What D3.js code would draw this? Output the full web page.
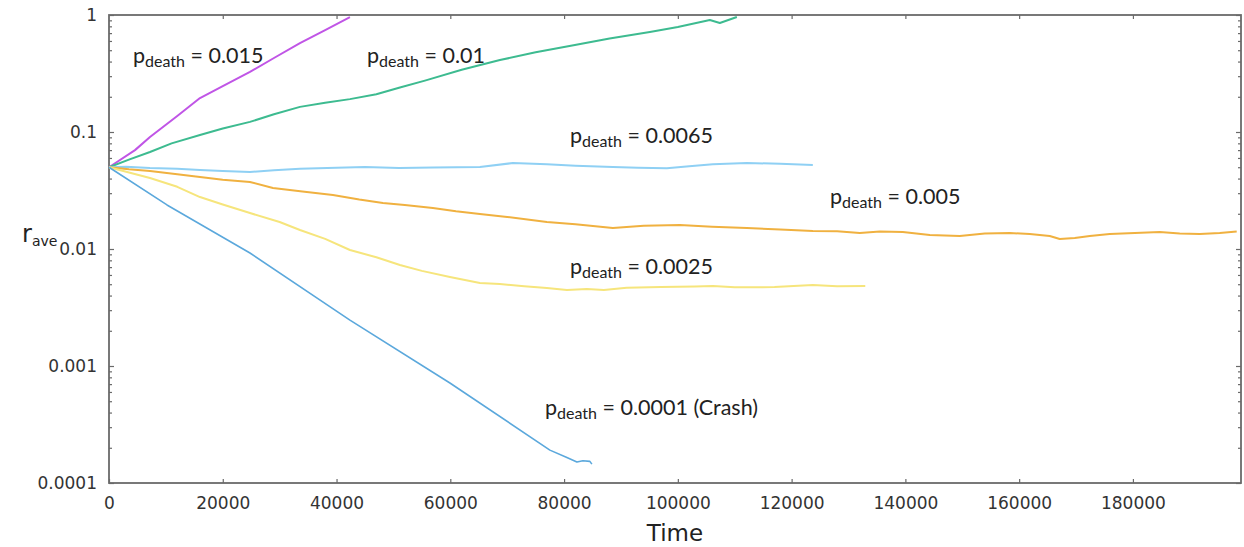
<!DOCTYPE html>
<html>
<head>
<meta charset="utf-8">
<script src="https://cdn.jsdelivr.net/npm/d3@7"></script>
<style>
  html, body { margin: 0; padding: 0; background: #fff; }
  svg { display: block; }
  .tick text { font-family: "DejaVu Sans", Verdana, sans-serif; font-size: 17px; fill: #333; }
  .note { font-family: Lato, "Open Sans", sans-serif; fill: #222; }
</style>
</head>
<body>
<svg id="chart" width="1244" height="547"></svg>
<script>
// r_ave over time for several death probabilities: [time, r_ave]
const series0015 = [[0,0.05],[4570,0.070],[7206,0.0906],[12000,0.137],[15993,0.195],[20000,0.247],[24781,0.326],[29000,0.429],[33568,0.576],[38000,0.744],[42356,0.96]];
const series0010 = [[0,0.05],[3500,0.058],[7206,0.0675],[11000,0.08],[15993,0.0942],[20000,0.107],[24781,0.122],[29000,0.142],[33568,0.164],[38000,0.178],[42356,0.191],[47000,0.21],[51143,0.24],[55537,0.275],[62000,0.34],[68718,0.412],[75000,0.48],[81900,0.554],[88000,0.63],[95081,0.716],[100000,0.79],[105626,0.906],[107383,0.855],[110371,0.962]];
const series0065 = [[0,0.05],[3000,0.0505],[7206,0.0492],[12000,0.0485],[15993,0.0473],[20000,0.0465],[24781,0.0455],[29000,0.047],[33568,0.0485],[40000,0.0495],[45000,0.0502],[51000,0.0492],[57000,0.0498],[65203,0.0502],[71003,0.0543],[76979,0.053],[82000,0.0515],[88578,0.0502],[93000,0.0495],[98069,0.049],[102000,0.051],[106153,0.053],[112129,0.0543],[118000,0.0535],[123728,0.0522]];
const series0050 = [[0,0.05],[3500,0.048],[7206,0.0464],[12000,0.0435],[15993,0.0412],[20000,0.039],[24781,0.0374],[28823,0.0332],[34000,0.031],[39368,0.029],[44000,0.0265],[48156,0.0247],[52000,0.0238],[56943,0.0224],[61000,0.021],[65203,0.0199],[70000,0.0188],[76979,0.017],[82000,0.0163],[88578,0.0151],[94000,0.0158],[100353,0.016],[106000,0.0155],[112129,0.0151],[118000,0.0147],[123728,0.01426],[128000,0.0142],[131988,0.0137],[135503,0.0141],[139546,0.01397],[144291,0.01317],[149563,0.01291],[153957,0.01357],[158350,0.0137],[161866,0.01343],[165381,0.01291],[167138,0.01218],[169774,0.01242],[172411,0.01291],[175926,0.01343],[180320,0.0137],[184713,0.01397],[188228,0.01357],[191743,0.01343],[195258,0.0137],[198246,0.01411]];
const series0025 = [[0,0.05],[7206,0.0404],[12000,0.034],[15993,0.0278],[20000,0.024],[24781,0.0203],[30000,0.017],[33568,0.01453],[38000,0.0122],[42356,0.0098],[47000,0.0085],[51143,0.0073],[55000,0.0065],[59931,0.00576],[65203,0.00512],[68718,0.00502],[73000,0.0048],[76979,0.00464],[80500,0.00447],[84000,0.00455],[87000,0.00447],[91000,0.00467],[97000,0.00473],[103000,0.00478],[106153,0.00483],[110000,0.0047],[117000,0.00473],[123728,0.00492],[128000,0.0048],[132950,0.00483]];
const series0001 = [[0,0.05],[10194,0.0238],[24781,0.00924],[42356,0.00247],[59931,0.000716],[77506,0.000191],[80494,0.000165],[82251,0.000151],[83306,0.000155],[84536,0.000153],[84887,0.000145]];

const lineColors = ["#c055e6", "#3dbb90", "#8fd0f4", "#f0b140", "#f6e57c", "#5ba8dc"];
const labelValues = ["0.015", "0.01", "0.0065", "0.005", "0.0025", "0.0001 (Crash)"];

const xTicks = [0, 20000, 40000, 60000, 80000, 100000, 120000, 140000, 160000, 180000];
const yTicks = [0.0001, 0.001, 0.01, 0.1, 1];
const yTickLabels = ["0.0001", "0.001", "0.01", "0.1", "1"];

const svg = d3.select("#chart");
const plotL = 109, plotR = 1241, plotT = 15, plotB = 483;

const x = d3.scaleLinear().domain([0, 199000]).range([plotL, plotR]);
const y = d3.scaleLog().domain([0.0001, 1]).range([plotB, plotT]);

// minor log ticks (2..9 in each decade)
const yMinor = [];
for (let e = -4; e < 0; e++) for (let m = 2; m <= 9; m++) yMinor.push(m * Math.pow(10, e));

const axisColor = "#6a6a6a";

function styleAxis(g) {
  g.selectAll(".domain").remove();
  g.selectAll(".tick line").attr("stroke", axisColor).attr("stroke-width", 1.2);
}

// bottom axis with labels
svg.append("g").attr("transform", `translate(0,${plotB})`)
  .call(d3.axisBottom(x).tickValues(xTicks).tickFormat(d3.format("d")).tickSizeInner(-4).tickSizeOuter(0).tickPadding(14))
  .call(styleAxis);
// top axis ticks
svg.append("g").attr("transform", `translate(0,${plotT})`)
  .call(d3.axisTop(x).tickValues(xTicks.slice(1)).tickFormat("").tickSizeInner(-4).tickSizeOuter(0))
  .call(styleAxis);
// left axis with labels
svg.append("g").attr("transform", `translate(${plotL},0)`)
  .call(d3.axisLeft(y).tickValues(yTicks).tickFormat((d, i) => yTickLabels[i]).tickSizeInner(-5).tickSizeOuter(0).tickPadding(12))
  .call(styleAxis);
svg.append("g").attr("transform", `translate(${plotL},0)`)
  .call(d3.axisLeft(y).tickValues(yMinor).tickFormat("").tickSizeInner(-3).tickSizeOuter(0))
  .call(styleAxis);
// right axis ticks
svg.append("g").attr("transform", `translate(${plotR},0)`)
  .call(d3.axisRight(y).tickValues(yTicks).tickFormat("").tickSizeInner(-5).tickSizeOuter(0))
  .call(styleAxis);
svg.append("g").attr("transform", `translate(${plotR},0)`)
  .call(d3.axisRight(y).tickValues(yMinor).tickFormat("").tickSizeInner(-3).tickSizeOuter(0))
  .call(styleAxis);

// plot frame
svg.append("rect")
  .attr("x", plotL).attr("y", plotT).attr("width", plotR - plotL).attr("height", plotB - plotT)
  .attr("fill", "none").attr("stroke", axisColor).attr("stroke-width", 1.8);

// curves
const allSeries = [series0015, series0010, series0065, series0050, series0025, series0001];
const line = d3.line().x(d => x(d[0])).y(d => y(d[1])).curve(d3.curveLinear);
svg.append("g").selectAll("path").data(allSeries).join("path")
  .attr("d", line)
  .attr("fill", "none")
  .attr("stroke", (d, i) => lineColors[i])
  .attr("stroke-width", (d, i) => i === 5 ? 1.6 : 2)
  .attr("stroke-linejoin", "round");

// curve annotations
const notePos = [[133, 63], [367, 63], [570, 143], [830, 204], [570, 274], [545, 415]];
const notes = svg.append("g");
labelValues.forEach((v, i) => {
  const t = notes.append("text").attr("class", "note")
    .attr("x", notePos[i][0]).attr("y", notePos[i][1]).attr("font-size", 21.5);
  t.append("tspan").text("p");
  t.append("tspan").attr("font-size", 16).attr("dy", 4).text("death");
  t.append("tspan").attr("dy", -4).text(" = " + v);
});

// axis titles
svg.append("text")
  .attr("x", (plotL + plotR) / 2).attr("y", 541)
  .attr("text-anchor", "middle")
  .attr("font-family", "'DejaVu Sans', Verdana, sans-serif")
  .attr("font-size", 23).attr("fill", "#222")
  .text("Time");

const yTitle = svg.append("text")
  .attr("x", 22).attr("y", 242)
  .attr("font-family", "'DejaVu Sans', Verdana, sans-serif")
  .attr("font-size", 24).attr("fill", "#222");
yTitle.append("tspan").text("r");
yTitle.append("tspan").attr("font-size", 14).attr("dy", 4).text("ave");
</script>
</body>
</html>
